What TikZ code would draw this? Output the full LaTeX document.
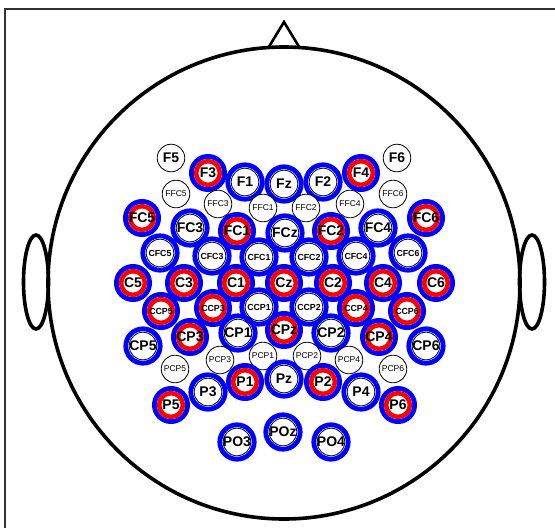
\documentclass[tikz,border=0pt]{standalone}
\usepackage{fontspec}
\setmainfont{Liberation Sans}
\begin{document}
\begin{tikzpicture}[x=1pt,y=-1pt,
  headline/.style={draw=black,line width=3.6pt},
  frameline/.style={draw=black!80,line width=1.1pt},
  bring/.style={draw=blue,line width=4.8pt},
  rring/.style={draw=red,line width=4.6pt},
  plainc/.style={draw=black,line width=0.8pt,fill=white},
  bigtxt/.style={inner sep=0pt,font=\bfseries\fontsize{14}{14}\selectfont},
  smalltxt/.style={inner sep=0pt,font=\bfseries\fontsize{8.8}{8.8}\selectfont},
  thintxt/.style={inner sep=0pt,font=\fontsize{8.5}{8.5}\selectfont}
]
\useasboundingbox (0,0) rectangle (555,528);
\begin{scope}
\clip (0,0) rectangle (555,528);
\draw[frameline] (5,9) rectangle (600,600);
\end{scope}
% head
\draw[headline] (284,283) circle[radius=236pt];
\draw[headline] (36,282) ellipse[x radius=12.5pt,y radius=47pt];
\draw[headline] (532,282) ellipse[x radius=12.5pt,y radius=47pt];
\draw[draw=black,line width=2.6pt,line join=miter] (268.5,47.5) -- (284,22) -- (299.5,47.5);
% macros
\newcommand\elP[4]{\draw[plainc] (#2) circle[radius=13.8pt];
  \node[#4] (#1) at (#2) {#3};}
\newcommand\elB[4]{\draw[bring] (#2) circle[radius=17.2pt];
  \draw[plainc] (#2) circle[radius=13.8pt];
  \node[#4] (#1) at (#2) {#3};}
\newcommand\elR[4]{\draw[bring] (#2) circle[radius=16.6pt];
  \draw[rring,fill=white] (#2) circle[radius=11.9pt];
  \node[#4] (#1) at (#2) {#3};}
% F row
\elP{F5}{171,158}{F5}{bigtxt}
\elP{F6}{397,158}{F6}{bigtxt}
\elR{F3}{208,173}{F3}{bigtxt}
\elR{F4}{361,173}{F4}{bigtxt}
\elB{F1}{245,182}{F1}{bigtxt}
\elB{F2}{323,182}{F2}{bigtxt}
\elB{Fz}{284,184}{Fz}{bigtxt}
% FFC row
\elP{FFC5}{176,194}{FFC5}{thintxt}
\elP{FFC3}{218,204}{FFC3}{thintxt}
\elP{FFC1}{263,208}{FFC1}{thintxt}
\elP{FFC2}{306,208}{FFC2}{thintxt}
\elP{FFC4}{350,204}{FFC4}{thintxt}
\elP{FFC6}{393,194}{FFC6}{thintxt}
% FC row
\elR{FC5}{142,218}{FC5}{bigtxt}
\elB{FC3}{190,228}{FC3}{bigtxt}
\elR{FC1}{237,231}{FC1}{bigtxt}
\elB{FCz}{285,233}{FCz}{bigtxt}
\elR{FC2}{331,231}{FC2}{bigtxt}
\elB{FC4}{378,228}{FC4}{bigtxt}
\elR{FC6}{426,218}{FC6}{bigtxt}
% CFC row
\elB{CFC5}{160,253}{CFC5}{smalltxt}
\elB{CFC3}{212,256}{CFC3}{smalltxt}
\elB{CFC1}{259,257}{CFC1}{smalltxt}
\elB{CFC2}{309,257}{CFC2}{smalltxt}
\elB{CFC4}{356,256}{CFC4}{smalltxt}
\elB{CFC6}{408,253}{CFC6}{smalltxt}
% C row
\elR{C5}{133,283}{C5}{bigtxt}
\elR{C3}{184,283}{C3}{bigtxt}
\elR{C1}{236,283}{C1}{bigtxt}
\elR{Cz}{284,283}{Cz}{bigtxt}
\elR{C2}{333,283}{C2}{bigtxt}
\elR{C4}{383,283}{C4}{bigtxt}
\elR{C6}{436,283}{C6}{bigtxt}
% CCP row
\elR{CCP5}{161,311}{CCP5}{smalltxt}
\elR{CCP3}{213,308}{CCP3}{smalltxt}
\elB{CCP1}{259,307}{CCP1}{smalltxt}
\elB{CCP2}{309,307}{CCP2}{smalltxt}
\elR{CCP4}{356,308}{CCP4}{smalltxt}
\elR{CCP6}{407,311}{CCP6}{smalltxt}
% CP row
\elB{CP5}{143,346}{CP5}{bigtxt}
\elR{CP3}{190,337}{CP3}{bigtxt}
\elB{CP1}{238,333}{CP1}{bigtxt}
\elR{CPz}{284,330}{CPz}{bigtxt}
\elB{CP2}{331,333}{CP2}{bigtxt}
\elR{CP4}{379,337}{CP4}{bigtxt}
\elB{CP6}{426,346}{CP6}{bigtxt}
% PCP row
\elP{PCP5}{175,369}{PCP5}{thintxt}
\elP{PCP3}{220,360}{PCP3}{thintxt}
\elP{PCP1}{263,356}{PCP1}{thintxt}
\elP{PCP2}{307,356}{PCP2}{thintxt}
\elP{PCP4}{349,360}{PCP4}{thintxt}
\elP{PCP6}{393,369}{PCP6}{thintxt}
% P row
\elR{P5}{171,405}{P5}{bigtxt}
\elB{P3}{208,392}{P3}{bigtxt}
\elR{P1}{245,382}{P1}{bigtxt}
\elB{Pz}{284,379}{Pz}{bigtxt}
\elR{P2}{323,382}{P2}{bigtxt}
\elB{P4}{361,392}{P4}{bigtxt}
\elR{P6}{398,405}{P6}{bigtxt}
% PO row
\elB{PO3}{237,442}{PO3}{bigtxt}
\elB{POz}{283,432}{POz}{bigtxt}
\elB{PO4}{331,442}{PO4}{bigtxt}
\end{tikzpicture}
\end{document}
